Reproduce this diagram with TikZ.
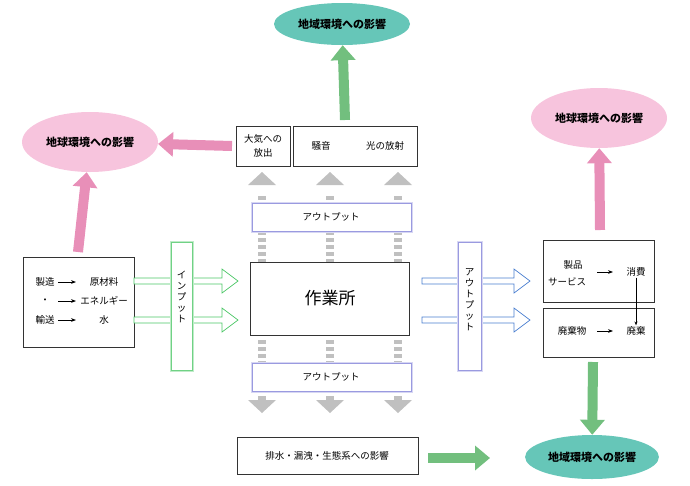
\documentclass[tikz,border=0pt]{standalone}
\usepackage{fontspec}
\setmainfont{Noto Sans CJK JP}
\usetikzlibrary{arrows.meta}
\definecolor{teal1}{HTML}{66C6B8}
\definecolor{pink1}{HTML}{F7C4DD}
\definecolor{pinkA}{HTML}{E88FB8}
\definecolor{greenA}{HTML}{72BF7E}
\definecolor{grayA}{HTML}{C0C0C0}
\definecolor{greenB}{HTML}{4CC766}
\definecolor{blueB}{HTML}{4A7FD0}
\definecolor{lavB}{HTML}{9A9AE0}
\tikzset{
 ell/.style={ellipse, draw=none, minimum width=136pt, minimum height=40pt, font=\bfseries\fontsize{11}{13}\selectfont},
 box/.style={draw=black!80, line width=0.8pt, fill=white},
 fat/.style={line width=10pt, -{Triangle[width=24pt,length=15pt]}},
 grayup/.style={grayA, line width=8pt, dash pattern=on 4pt off 3pt},
 t/.style={font=\fontsize{9.5}{11}\selectfont, inner sep=1pt},
}
\usetikzlibrary{shapes.geometric}
\begin{document}
\begin{tikzpicture}[x=1pt,y=-1pt]
\useasboundingbox (0,0) rectangle (690,485);
% ellipses
\node[ell, fill=teal1, minimum height=42pt] (e1) at (342,24) {地域環境への影響};
\node[ell, fill=pink1, minimum height=60pt] (e2) at (90,142) {地球環境への影響};
\node[ell, fill=pink1, minimum height=60pt] (e3) at (599,118) {地球環境への影響};
\node[ell, fill=teal1, minimum width=132pt, minimum height=44pt] (e4) at (592,457) {地域環境への影響};
% boxes top
\draw[box] (236,126) rectangle (290,166);
\node[t, align=center] (air) at (263,146) {大気への\\[3pt]放出};
\draw[box] (293,126) rectangle (417,166);
\node[t] (noise) at (321,146) {騒音};
\node[t] (light) at (385,146) {光の放射};
% gray arrows
\foreach \x in {262,330,398}{
 \draw[grayup] (\x,196) -- (\x,262);
 \fill[grayA] (\x-14,185) -- (\x,172) -- (\x+14,185) -- cycle;
 \draw[grayup] (\x,340) -- (\x,400);
 \fill[grayA] (\x-14,400) -- (\x,413) -- (\x+14,400) -- cycle;
}
% output boxes
\foreach \y/\n in {203/o1,363/o2}{
 \draw[lavB!40, line width=3pt] (252,\y) rectangle (411,\y+28);
 \draw[lavB, fill=white, line width=0.8pt] (252,\y) rectangle (411,\y+28);
 \node[t] (\n) at (331,\y+14) {アウトプット};
}
% main box
\draw[box] (250,262) rectangle (409,335);
\node[font=\fontsize{17}{20}\selectfont] (work) at (330,298) {作業所};
% bottom box
\draw[box] (237,437) rectangle (418,474);
\node[t] (drain) at (327,456) {排水・漏洩・生態系への影響};
% left box
\draw[box] (23,257) rectangle (134,347);
\node[t] (a1) at (45,282) {製造};
\node[t] (a2) at (45,301) {・};
\node[t] (a3) at (45,320) {輸送};
\node[t] (b1) at (104,282) {原材料};
\node[t] (b2) at (104,301) {エネルギー};
\node[t] (b3) at (104,320) {水};
\foreach \y in {282,301,320}{ \draw[line width=1pt,-{Stealth[length=5pt]}] (58,\y) -- (76,\y); }
% hollow arrows input
\foreach \y in {281,320}{
 \draw[greenB, fill=white, line width=0.7pt] (134,\y-3) -- (222,\y-3) -- (222,\y-12) -- (238,\y) -- (222,\y+12) -- (222,\y+3) -- (134,\y+3) -- cycle;
 \draw[blueB, fill=white, line width=0.7pt] (422,\y-3) -- (514,\y-3) -- (514,\y-12) -- (530,\y) -- (514,\y+12) -- (514,\y+3) -- (422,\y+3) -- cycle;
}
% input vertical
\draw[greenB!35, line width=3pt] (171,242) rectangle (192,370);
\draw[greenB!80, fill=white, line width=0.8pt] (171,242) rectangle (192,370);
\node[t, align=center] (in) at (181.5,297) {イ\\ン\\プ\\ッ\\ト};
% output vertical
\draw[lavB!40, line width=3pt] (458,242) rectangle (481,370);
\draw[lavB, fill=white, line width=0.8pt] (458,242) rectangle (481,370);
\node[t, align=center] (out) at (469.5,300) {ア\\ウ\\ト\\プ\\ッ\\ト};
% right boxes
\draw[box] (543,240) rectangle (654,302);
\draw[box] (543,308) rectangle (654,357);
\node[t] (c1) at (573,265) {製品};
\node[t] (c2) at (567,282) {サービス};
\node[t] (c3) at (636,272) {消費};
\node[t] (d1) at (572,331) {廃棄物};
\node[t] (d2) at (636,331) {廃棄};
\draw[line width=1pt,-{Stealth[length=5pt]}] (597,272) -- (613,272);
\draw[line width=1pt,-{Stealth[length=5pt]}] (597,331) -- (613,331);
\draw[line width=0.7pt,-{Stealth[length=4pt]}] (c3) -- (d2);
% fat arrows
\draw[fat, greenA] (345,120) -- (e1);
\draw[fat, pinkA] (232,146) -- (e2);
\draw[fat, pinkA] (78,252) -- (e2);
\draw[fat, pinkA] (600,230) -- (e3);
\draw[fat, greenA] (593,362) -- (e4);
\draw[fat, greenA] (428,458) -- (490,458);
\end{tikzpicture}
\end{document}
